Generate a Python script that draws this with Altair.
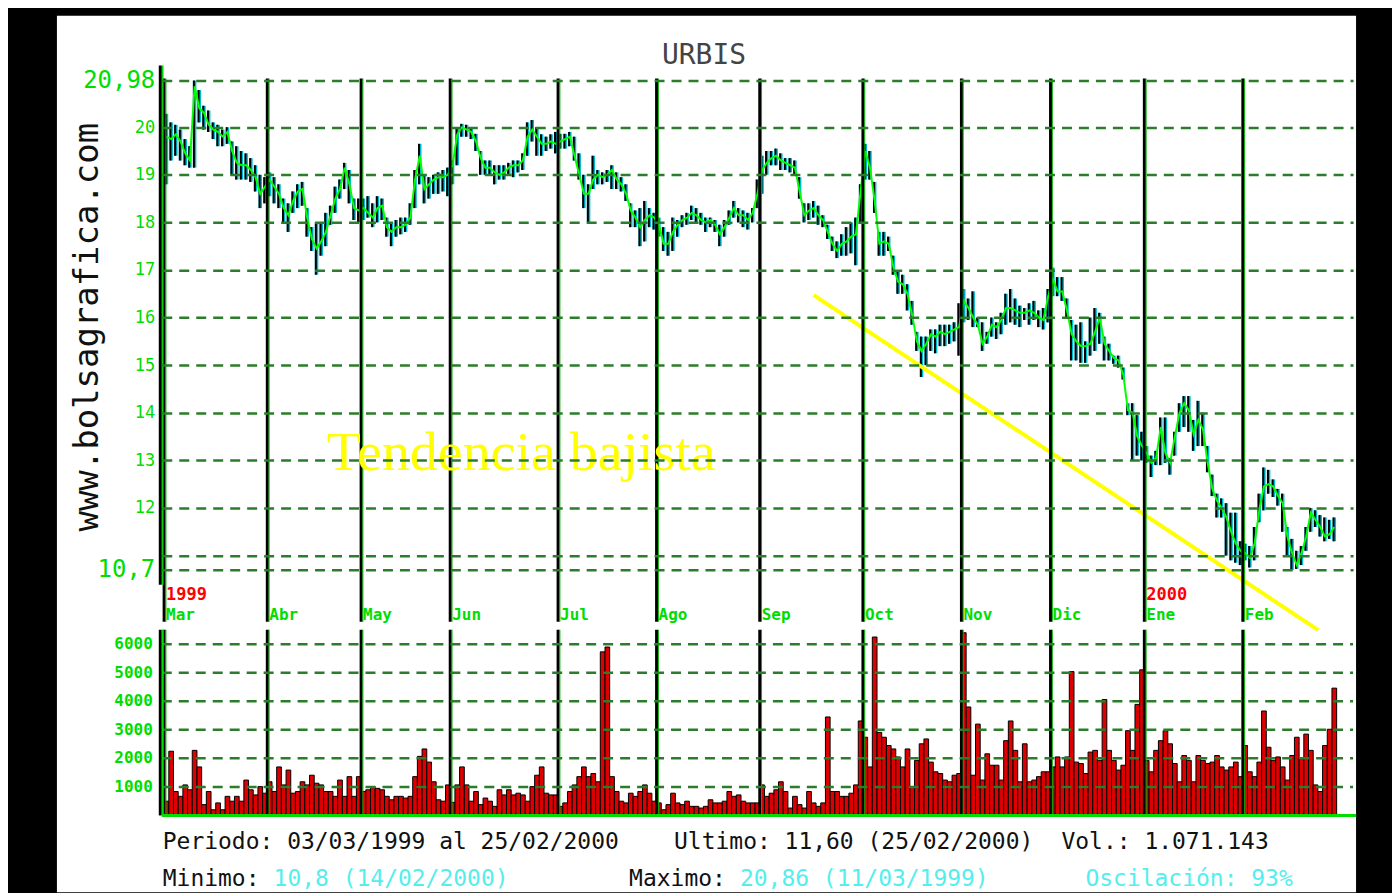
import altair as alt
import pandas as pd

# ---------------- data ----------------
title_text = ["URBIS"]
site_text = ["www.bolsagrafica.com"]
trend_label = ["Tendencia bajista"]

month_names = ["Mar", "Abr", "May", "Jun", "Jul", "Ago", "Sep", "Oct", "Nov", "Dic", "Ene", "Feb"]
month_start = [0, 22, 42, 61, 84, 105, 127, 149, 170, 189, 209, 230]
year_names = ["1999", "2000"]
year_start = [0, 209]

price_ticks = [10.7, 11, 12, 13, 14, 15, 16, 17, 18, 19, 20, 20.98]
volume_ticks = [1000, 2000, 3000, 4000, 5000, 6000]
volume_tick_labels = ["1000", "2000", "3000", "4000", "5000", "6000"]

trend_i = [138.0, 245.5]
trend_p = [16.47, 9.44]

# (low, close, high) per trading day
mar = [(18.8, 19.8, 20.28), (19.3, 19.75, 20.1), (19.4, 19.85, 20.05), (19.3, 19.7, 19.95),
       (19.2, 19.45, 19.75), (19.15, 19.3, 19.6), (19.15, 20.86, 20.98), (20.1, 20.4, 20.78),
       (19.95, 20.3, 20.45), (19.9, 20.05, 20.35), (19.75, 19.95, 20.1), (19.6, 19.9, 20.05),
       (19.6, 19.8, 19.95), (19.65, 19.9, 20.0), (19.0, 19.5, 19.7), (18.9, 19.25, 19.6),
       (18.9, 19.2, 19.5), (18.9, 19.2, 19.45), (18.85, 19.1, 19.35), (18.65, 18.95, 19.2),
       (18.3, 18.6, 19.0), (18.4, 18.75, 18.95)]
abr = [(18.55, 18.9, 19.05), (18.4, 18.75, 18.95), (18.3, 18.6, 18.8), (18.0, 18.3, 18.5),
       (17.8, 18.15, 18.4), (18.2, 18.45, 18.65), (18.3, 18.65, 18.8), (18.35, 18.7, 18.85),
       (17.7, 18.1, 18.3), (17.4, 17.65, 17.9), (16.9, 17.45, 18.0), (17.3, 17.6, 18.0),
       (17.5, 17.8, 18.2), (17.95, 18.15, 18.35), (18.2, 18.5, 18.75), (18.5, 18.7, 18.9),
       (18.7, 19.15, 19.25), (18.4, 18.8, 19.1), (18.05, 18.3, 18.5), (18.0, 18.25, 18.5)]
may = [(18.05, 18.3, 18.5), (18.1, 18.2, 18.55), (17.9, 18.1, 18.4), (18.0, 18.3, 18.55),
       (18.05, 18.35, 18.5), (17.7, 17.9, 18.1), (17.5, 17.8, 18.0), (17.7, 17.9, 18.05),
       (17.75, 17.9, 18.1), (17.8, 17.95, 18.1), (17.95, 18.1, 18.4), (18.3, 18.9, 19.1),
       (18.8, 19.4, 19.65), (18.4, 18.7, 19.0), (18.5, 18.8, 18.95), (18.6, 18.9, 19.0),
       (18.6, 18.95, 19.05), (18.65, 18.95, 19.1), (18.55, 19.0, 19.15)]
jun = [(18.8, 19.2, 19.3), (19.2, 19.85, 20.0), (19.8, 20.0, 20.07), (19.8, 19.95, 20.05),
       (19.75, 19.9, 20.0), (19.5, 19.7, 19.86), (19.0, 19.35, 19.5), (19.0, 19.15, 19.3),
       (19.0, 19.15, 19.3), (18.8, 19.05, 19.2), (18.9, 19.0, 19.2), (18.9, 19.05, 19.2),
       (19.0, 19.15, 19.25), (18.95, 19.2, 19.3), (19.05, 19.2, 19.3), (19.1, 19.3, 19.45),
       (19.4, 19.8, 20.1), (19.7, 19.95, 20.15), (19.4, 19.8, 20.0), (19.4, 19.65, 19.85),
       (19.5, 19.65, 19.8), (19.55, 19.7, 19.85), (19.45, 19.65, 19.9)]
jul = [(19.55, 19.7, 19.86), (19.55, 19.75, 19.86), (19.6, 19.8, 19.9), (19.3, 19.4, 19.8),
       (18.9, 19.0, 19.45), (18.3, 18.6, 19.0), (18.0, 18.6, 18.8), (18.7, 18.9, 19.4),
       (18.8, 19.0, 19.1), (18.8, 18.95, 19.05), (18.85, 19.0, 19.1), (18.7, 19.1, 19.2),
       (18.7, 18.9, 19.05), (18.65, 18.8, 18.95), (18.45, 18.6, 18.8), (17.9, 18.25, 18.4),
       (17.9, 18.1, 18.25), (17.5, 17.9, 18.3), (17.6, 18.05, 18.45), (17.9, 18.15, 18.3),
       (17.85, 18.1, 18.2)]
ago = [(17.7, 17.95, 18.1), (17.4, 17.55, 17.9), (17.3, 17.55, 17.8), (17.4, 17.8, 18.1),
       (17.7, 17.95, 18.05), (17.9, 18.05, 18.15), (17.95, 18.1, 18.2), (18.05, 18.2, 18.35),
       (18.0, 18.15, 18.3), (17.95, 18.05, 18.2), (17.8, 18.0, 18.1), (17.9, 18.05, 18.1),
       (17.8, 17.95, 18.05), (17.5, 17.75, 17.95), (17.7, 17.9, 18.05), (17.95, 18.1, 18.25),
       (18.1, 18.3, 18.45), (18.0, 18.15, 18.3), (17.9, 18.15, 18.25), (17.85, 18.05, 18.2),
       (18.0, 18.2, 18.3), (18.3, 18.6, 18.9)]
sep = [(18.6, 19.1, 19.4), (19.0, 19.25, 19.5), (19.2, 19.35, 19.5), (19.2, 19.4, 19.55),
       (19.1, 19.3, 19.45), (19.1, 19.25, 19.35), (19.05, 19.2, 19.35), (19.0, 19.15, 19.3),
       (18.5, 18.65, 18.95), (18.0, 18.15, 18.4), (18.05, 18.25, 18.4), (18.1, 18.3, 18.45),
       (17.95, 18.15, 18.35), (17.9, 18.05, 18.15), (17.65, 17.8, 17.95), (17.4, 17.55, 17.7),
       (17.25, 17.4, 17.6), (17.3, 17.55, 17.75), (17.3, 17.6, 17.9), (17.35, 17.7, 18.0),
       (17.1, 17.75, 18.1), (18.0, 18.65, 18.8)]
octu = [(18.9, 19.5, 19.65), (18.9, 19.15, 19.5), (18.2, 18.45, 18.85), (17.3, 17.55, 17.8),
        (17.3, 17.6, 17.8), (17.4, 17.55, 17.7), (16.9, 17.05, 17.3), (16.5, 16.75, 17.0),
        (16.5, 16.7, 16.9), (16.15, 16.5, 16.7), (15.85, 16.05, 16.35), (15.3, 15.5, 15.7),
        (14.75, 15.3, 15.6), (15.0, 15.45, 15.6), (15.3, 15.65, 15.75), (15.25, 15.6, 15.75),
        (15.4, 15.7, 15.85), (15.4, 15.65, 15.85), (15.45, 15.7, 15.85), (15.5, 15.75, 15.9),
        (15.2, 15.8, 16.3)]
nov = [(15.9, 16.35, 16.6), (15.95, 16.2, 16.4), (15.8, 16.0, 16.55), (15.8, 15.85, 16.0),
       (15.3, 15.45, 15.9), (15.45, 15.6, 15.7), (15.6, 15.85, 16.0), (15.55, 15.8, 15.9),
       (15.65, 15.95, 16.1), (15.85, 16.2, 16.5), (15.9, 16.2, 16.6), (15.85, 16.15, 16.4),
       (15.8, 16.1, 16.25), (15.95, 16.1, 16.2), (15.85, 16.15, 16.3), (15.95, 16.1, 16.35),
       (15.8, 16.0, 16.15), (15.75, 15.95, 16.2), (15.9, 16.45, 16.6)]
dic = [(16.45, 16.8, 17.05), (16.45, 16.55, 16.85), (16.35, 16.55, 16.85), (16.0, 16.15, 16.4),
       (15.1, 15.65, 15.95), (15.1, 15.5, 15.85), (15.05, 15.4, 15.9), (15.05, 15.4, 15.5),
       (15.2, 15.45, 16.0), (15.3, 15.7, 16.2), (15.45, 16.0, 16.1), (15.1, 15.45, 15.6),
       (15.1, 15.3, 15.45), (15.03, 15.15, 15.2), (14.95, 15.1, 15.2), (14.7, 14.8, 14.95),
       (13.95, 14.05, 14.2), (13.0, 14.0, 14.2), (13.1, 13.5, 13.95), (13.0, 13.3, 13.6)]
ene = [(12.95, 13.15, 13.3), (12.65, 12.95, 13.1), (12.9, 13.05, 13.2), (12.9, 13.7, 13.9),
       (12.95, 13.15, 13.9), (12.7, 12.95, 13.05), (13.1, 13.5, 13.6), (13.6, 14.0, 14.2),
       (13.7, 14.2, 14.35), (13.6, 14.05, 14.35), (13.2, 13.55, 13.85), (13.3, 13.85, 14.25),
       (13.3, 13.65, 14.0), (12.75, 12.95, 13.3), (12.25, 12.4, 12.7), (11.8, 12.15, 12.3),
       (11.8, 12.0, 12.2), (11.0, 11.8, 12.1), (10.9, 11.5, 11.9), (10.85, 11.25, 11.9),
       (10.8, 11.1, 11.3)]
feb = [(10.9, 11.05, 11.25), (10.75, 10.95, 11.2), (10.9, 11.25, 11.6), (11.7, 11.95, 12.3),
       (11.95, 12.45, 12.85), (12.3, 12.5, 12.8), (12.23, 12.45, 12.6), (12.05, 12.25, 12.4),
       (11.5, 12.1, 12.3), (11.0, 11.4, 11.6), (10.7, 11.05, 11.35), (10.72, 10.8, 11.1),
       (10.8, 11.05, 11.2), (11.1, 11.4, 11.6), (11.5, 11.9, 12.0), (11.6, 11.75, 11.95),
       (11.4, 11.6, 11.85), (11.3, 11.4, 11.8), (11.35, 11.45, 11.75), (11.3, 11.6, 11.8)]

vol_mar = [500, 2250, 840, 670, 1070, 900, 2280, 1700, 380, 840, 200, 440, 200, 670, 500, 670,
           500, 1240, 900, 720, 1010, 780]
vol_abr = [1180, 840, 1700, 1070, 1590, 780, 840, 1180, 1070, 1410, 1130, 1070, 840, 840, 670,
           1240, 670, 1360, 670, 1360]
vol_may = [840, 900, 1010, 950, 900, 670, 550, 670, 670, 610, 670, 1360, 2070, 2330, 1870, 1180,
           550, 500, 1070]
vol_jun = [460, 1070, 1700, 1070, 500, 840, 380, 610, 500, 320, 900, 720, 900, 720, 780, 720, 500,
           1010, 1410, 1700, 780, 720, 720]
vol_jul = [320, 440, 840, 1070, 1360, 1700, 1360, 1470, 1180, 5730, 5900, 1360, 840, 500, 440, 780,
           670, 840, 1070, 780, 500]
vol_ago = [440, 200, 380, 780, 440, 380, 500, 320, 320, 260, 320, 550, 440, 440, 500, 840, 670, 720,
           500, 440, 440, 440]
vol_sep = [1070, 670, 780, 900, 1180, 840, 260, 670, 380, 260, 840, 440, 320, 440, 3450, 840, 840,
           670, 670, 780, 1070, 3310]
vol_oct = [2740, 1700, 6250, 2910, 2740, 2450, 2330, 2050, 1700, 2330, 1010, 1930, 2510, 2680, 1870,
           1530, 1470, 1240, 1180, 1410, 1470]
vol_nov = [6400, 3800, 1410, 3200, 1240, 2160, 1760, 1760, 1240, 2620, 3310, 2280, 1180, 2510, 1180,
           1240, 1360, 1530, 1530]
vol_dic = [1700, 2050, 1700, 2050, 5040, 1870, 1820, 1470, 2220, 2280, 1930, 4060, 2280, 1930, 1590,
           1760, 2970, 2280, 3890, 5100]
vol_ene = [1930, 1530, 2280, 2620, 2970, 2510, 1820, 1180, 2100, 1930, 1180, 2100, 1930, 1820, 1870,
           2100, 1700, 1590, 1700, 1870, 1360]
vol_feb = [2450, 1530, 1360, 1870, 3660, 2390, 1930, 2050, 1700, 1240, 2100, 2740, 1990, 2850, 2280,
           1070, 840, 2450, 3020, 4460]

footer_periodo = ["Periodo: 03/03/1999 al 25/02/2000"]
footer_ultimo = ["Ultimo: 11,60 (25/02/2000)"]
footer_vol = ["Vol.:  1.071.143"]
footer_min_lbl = ["Minimo:"]
footer_min_val = ["10,8 (14/02/2000)"]
footer_max_lbl = ["Maximo:"]
footer_max_val = ["20,86 (11/03/1999)"]
footer_osc = ["Oscilación: 93%"]

# ---------------- tables ----------------
rows = []
for m in [mar, abr, may, jun, jul, ago, sep, octu, nov, dic, ene, feb]:
    rows.extend(m)
df = pd.DataFrame(rows, columns=["lo", "c", "hi"])
df["i"] = range(len(df))
vols = []
for v in [vol_mar, vol_abr, vol_may, vol_jun, vol_jul, vol_ago, vol_sep, vol_oct, vol_nov,
          vol_dic, vol_ene, vol_feb]:
    vols.extend(v)
df["v"] = vols
df["x0"] = df["i"] - 0.5
df["x1"] = df["i"] + 0.5

mdf = pd.DataFrame({"name": month_names, "i": month_start})
mdf["x"] = mdf["i"] - 0.5
ydf = pd.DataFrame({"name": year_names, "i": year_start})
ydf["x"] = ydf["i"] - 0.5
tdf = pd.DataFrame({"i": trend_i, "p": trend_p})
vtdf = pd.DataFrame({"t": volume_ticks, "lbl": volume_tick_labels})

# ---------------- layout / styling ----------------
W, H1 = 1193, 490            # price plot area
VTOP, VBOT = 553, 736        # volume band inside the same view (pixels from plot top)
GREEN = "#00dd00"
GRID = "#2b7d2b"
MONO = "DejaVu Sans Mono"

xs = alt.Scale(domain=[-1, 253], nice=False, zero=False)
ys = alt.Scale(domain=[10.7, 20.98], nice=False, zero=False)
vs = alt.Scale(domain=[0, 6400], nice=False, zero=False, range=[VBOT, VTOP])

price_axis = alt.Axis(
    values=price_ticks,
    labelExpr="datum.value == 11 ? '' : replace(toString(datum.value), '.', ',')",
    grid=True, gridColor=GRID, gridDash=[10, 7], gridWidth=2.5,
    domain=False, ticks=False, labelColor=GREEN, labelFont=MONO,
    labelFontSize={"condition": {"test": "datum.value == 20.98 || datum.value == 10.7", "value": 24},
                   "value": 17},
    labelPadding=7, labelOverlap=False, zindex=1, title=None,
)

one = pd.DataFrame({"k": [0]})


def txt(values, x, y, **kw):
    return alt.Chart(pd.DataFrame({"t": values})).mark_text(**kw).encode(
        text="t:N", x=alt.value(x), y=alt.value(y))


def vline(x, y, y2, color, width):
    return alt.Chart(one).mark_rule(color=color, strokeWidth=width).encode(
        x=alt.value(x), y=alt.value(y), y2=alt.value(y2))


def month_rules(y, y2):
    b = alt.Chart(mdf).mark_rule(color="black", strokeWidth=3).encode(
        x=alt.X("x:Q", scale=xs, axis=None), y=alt.value(y), y2=alt.value(y2))
    g = alt.Chart(mdf).mark_rule(color="#00b000", strokeWidth=1, xOffset=1.8).encode(
        x=alt.X("x:Q", scale=xs, axis=None), y=alt.value(y), y2=alt.value(y2))
    return [b, g]


# white panel
bg = alt.Chart(one).mark_rect(color="white").encode(
    x=alt.value(-105), x2=alt.value(1196), y=alt.value(-65), y2=alt.value(813))

# ---------------- price ----------------
bars_cyan = alt.Chart(df).mark_rule(color="#00b8d0", strokeWidth=3.5).encode(
    x=alt.X("i:Q", scale=xs, axis=None),
    y=alt.Y("lo:Q", scale=ys, axis=price_axis), y2="hi:Q")
bars_black = alt.Chart(df).mark_rule(color="black", strokeWidth=2, xOffset=-0.7).encode(
    x=alt.X("i:Q", scale=xs, axis=None),
    y=alt.Y("lo:Q", scale=ys, axis=price_axis), y2="hi:Q")
close_line = alt.Chart(df).mark_line(color="#00ff00", strokeWidth=2).encode(
    x=alt.X("i:Q", scale=xs, axis=None), y=alt.Y("c:Q", scale=ys, axis=price_axis))
trend = alt.Chart(tdf).mark_line(color="#ffff00", strokeWidth=4).encode(
    x=alt.X("i:Q", scale=xs, axis=None), y=alt.Y("p:Q", scale=ys, axis=price_axis))

price_group = alt.layer(bars_cyan, bars_black, close_line, trend)

# ---------------- volume ----------------
vbars = alt.Chart(df).mark_rect(color="#dd0000", stroke="black", strokeWidth=1).encode(
    x=alt.X("x0:Q", scale=xs, axis=None), x2="x1:Q",
    y=alt.Y("v:Q", scale=vs, axis=None), y2=alt.datum(0))
vgrid = alt.Chart(vtdf).mark_rule(color=GRID, strokeWidth=2.5, strokeDash=[10, 7]).encode(
    y=alt.Y("t:Q", scale=vs, axis=None), x=alt.value(0), x2=alt.value(W))
vlabels = alt.Chart(vtdf).mark_text(align="right", baseline="middle", color=GREEN, font=MONO,
                                    fontSize=16, fontWeight="bold").encode(
    y=alt.Y("t:Q", scale=vs, axis=None), x=alt.value(-9), text="lbl:N")

vol_group = alt.layer(vbars, *month_rules(VTOP - 3, VBOT), vgrid, vlabels)

# ---------------- decorations ----------------
month_lbl = alt.Chart(mdf).mark_text(align="left", baseline="middle", dx=2, color=GREEN,
                                     font=MONO, fontSize=16, fontWeight="bold").encode(
    x=alt.X("x:Q", scale=xs, axis=None), y=alt.value(535), text="name:N")
year_lbl = alt.Chart(ydf).mark_text(align="left", baseline="middle", dx=2, color="#ff0000",
                                    font=MONO, fontSize=17, fontWeight="bold").encode(
    x=alt.X("x:Q", scale=xs, axis=None), y=alt.value(515), text="name:N")

title = txt(title_text, 543, -25, font=MONO, fontSize=28, color="#444444", align="center",
            baseline="middle")
site = txt(site_text, -74, 247, font=MONO, fontSize=34, color="#111111", angle=270,
           align="center", baseline="middle")
trend_txt = txt(trend_label, 360, 390, font="Liberation Serif", fontSize=56, color="#ffff00",
                align="center", baseline="alphabetic")
base_line = alt.Chart(one).mark_rule(color="#00dd00", strokeWidth=3).encode(
    x=alt.value(0), x2=alt.value(1196), y=alt.value(VBOT))

fkw = dict(font=MONO, fontSize=23, align="left", baseline="middle")
CYAN = "#55eeee"
DARK = "#111111"
F1, F2 = 763, 800

chart = alt.layer(
    bg, title, site,
    price_group,
    *month_rules(-2, 542),
    vline(-1.5, -15, 505, "black", 3), vline(1, -15, 505, "#00d000", 1.5),
    month_lbl, year_lbl,
    vol_group,
    vline(-1.5, VTOP - 3, VBOT, "black", 3), vline(1, VTOP - 3, VBOT, "#00dd00", 2), base_line,
    trend_txt,
    txt(footer_periodo, 1, F1, color=DARK, **fkw),
    txt(footer_ultimo, 513, F1, color=DARK, **fkw),
    txt(footer_vol, 901, F1, color=DARK, **fkw),
    txt(footer_min_lbl, 1, F2, color=DARK, **fkw),
    txt(footer_min_val, 112, F2, color=CYAN, **fkw),
    txt(footer_max_lbl, 468, F2, color=DARK, **fkw),
    txt(footer_max_val, 579, F2, color=CYAN, **fkw),
    txt(footer_osc, 925, F2, color=CYAN, **fkw),
).resolve_scale(y="independent").properties(
    width=W, height=H1, background="black",
    padding={"left": 49, "top": 7, "right": 34, "bottom": 0},
).configure_view(strokeWidth=0)

chart.save("out.html", embed_options={"renderer": "svg", "actions": False})
